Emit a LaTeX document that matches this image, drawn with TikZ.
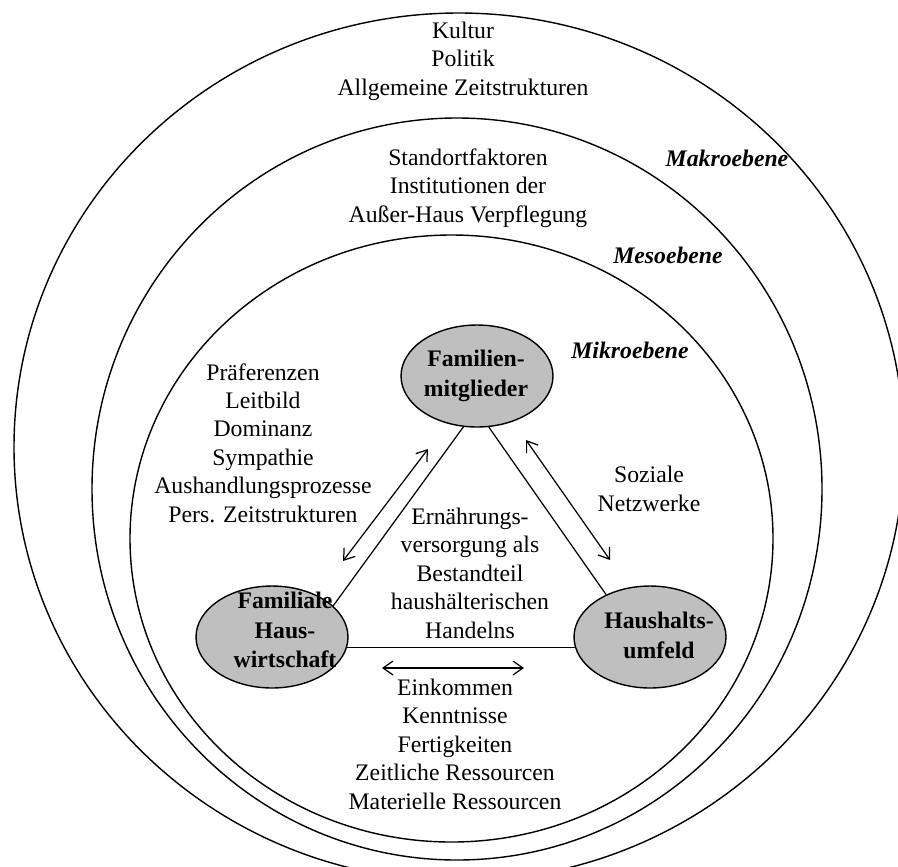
\documentclass[tikz,border=0pt]{standalone}
\usepackage{fontspec}
\setmainfont{Liberation Serif}
\usetikzlibrary{shapes.geometric,arrows.meta}

\begin{document}
\begin{tikzpicture}[x=0.02cm,y=-0.02cm,
    txt/.style={font=\fontsize{13.5}{16.2}\selectfont, align=center, inner sep=0pt},
    level/.style={txt, font=\fontsize{13.5}{16.2}\selectfont\bfseries\itshape},
    actor/.style={ellipse, draw, line width=0.8pt, fill=nodeGrey, inner sep=0pt,
                  minimum width=3.04cm, minimum height=2.04cm},
    actortext/.style={txt, font=\fontsize{13.5}{17}\selectfont\bfseries},
    ring/.style={line width=0.8pt},
    link/.style={line width=0.7pt},
    flow/.style={line width=0.7pt,
                 {Straight Barb[length=2mm,width=2.8mm]}-{Straight Barb[length=2mm,width=2.8mm]}}]
  \definecolor{nodeGrey}{rgb}{0.75,0.75,0.75}

  \useasboundingbox (0,0) rectangle (898,866);
  \clip (0,0) rectangle (898,866);

  % levels
  \foreach \cx/\cy/\rx/\ry in {459/447/445/434, 457/489/365/371, 451.5/538.5/321.5/303.5}
  {
    \draw[ring] (\cx,\cy) ellipse [x radius=\rx, y radius=\ry];
  }

  \node[level] (makro) at (727,158) {Makroebene};
  \node[level] (meso)  at (668,255) {Mesoebene};
  \node[level] (mikro) at (630,350) {Mikroebene};

  % level factors
  \node[txt] (kultur)   at (463,61)  {Kultur\\Politik\\Allgemeine Zeitstrukturen};
  \node[txt] (standort) at (468,188) {Standortfaktoren\\Institutionen der\\Außer-Haus Verpflegung};

  % actors
  \node[actor] (fm) at (477,376) {};
  \node[actor] (fh) at (272,637) {};
  \node[actor] (hu) at (650,637) {};
  \node[actortext] (fmtext) at (476,376) {Familien-\\mitglieder};
  \node[actortext] (fhtext) at (285,630) {Familiale\\Haus-\\wirtschaft};
  \node[actortext] (hutext) at (659,635) {Haushalts-\\umfeld};

  % triangle
  \draw[link] (fm.-105) -- (fh.27);
  \draw[link] (fm.-77) -- (hu.136);
  \draw[link] (fh.-8) -- (hu.188);

  % relations
  \coordinate (lefttop) at (428,449);
  \coordinate (leftbot) at (343,561);
  \coordinate (righttop) at (526,440);
  \coordinate (rightbot) at (610,560);
  \coordinate (botleft) at (382,668);
  \coordinate (botright) at (524,668);
  \draw[flow] (lefttop) -- (leftbot);
  \draw[flow] (righttop) -- (rightbot);
  \draw[flow] (botleft) -- (botright);

  \node[txt] (praef)   at (263,443) {Präferenzen\\Leitbild\\Dominanz\\Sympathie\\Aushandlungsprozesse\\Pers. Zeitstrukturen};
  \node[txt] (soziale) at (649,489) {Soziale\\Netzwerke};
  \node[txt] (ernaehr) at (470,573) {Ernährungs-\\versorgung als\\Bestandteil\\haushälterischen\\Handelns};
  \node[txt] (einkom)  at (455,744) {Einkommen\\Kenntnisse\\Fertigkeiten\\Zeitliche Ressourcen\\Materielle Ressourcen};

\end{tikzpicture}
\end{document}
